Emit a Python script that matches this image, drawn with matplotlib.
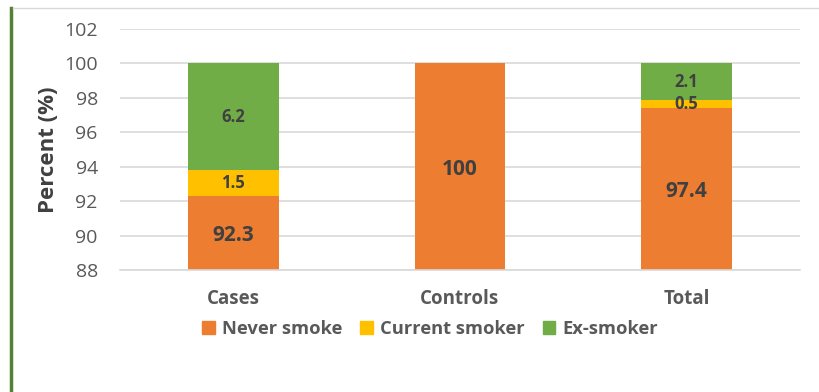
import matplotlib.pyplot as plt
import numpy as np
from matplotlib.lines import Line2D
from matplotlib.patches import Patch

# ─────────────────────────────────────────────
# Data
# ─────────────────────────────────────────────
groups = ['Cases', 'Controls', 'Total']
never_smoke = [92.3, 100, 97.4]
current_smoker = [1.5, 0, 0.5]
ex_smoker = [6.2, 0, 2.1]
y_ticks = [88, 90, 92, 94, 96, 98, 100, 102]

plt.rcParams['font.family'] = ['Open Sans', 'DejaVu Sans']

c_never = "#ED7D31"
c_current = "#FFC000"
c_ex = "#70AD47"
txt = "#404040"

fig = plt.figure(figsize=(8.2, 3.92), dpi=100, facecolor="white")
ax = fig.add_axes([120 / 820, 1 - 270 / 392, 680 / 820, 241 / 392])

x = np.arange(len(groups))
w = 0.4
ymin, ymax = 88, 102
ax.bar(x, never_smoke, w, color=c_never, zorder=2)
ax.bar(x, current_smoker, w, bottom=never_smoke, color=c_current, zorder=2)
bottom_ex = [a + b for a, b in zip(never_smoke, current_smoker)]
ax.bar(x, ex_smoker, w, bottom=bottom_ex, color=c_ex, zorder=2)

# Data labels (centred on the visible part of each segment)
for i in range(len(groups)):
    ax.text(x[i], (ymin + never_smoke[i]) / 2, f'{never_smoke[i]:g}',
            ha='center', va='center_baseline', fontsize=15, fontweight='bold', color=txt)
    if current_smoker[i] > 0:
        ax.text(x[i], never_smoke[i] + current_smoker[i] / 2, f'{current_smoker[i]:g}',
                ha='center', va='center', fontsize=12, fontweight='bold', color=txt)
    if ex_smoker[i] > 0:
        ax.text(x[i], bottom_ex[i] + ex_smoker[i] / 2, f'{ex_smoker[i]:g}',
                ha='center', va='center', fontsize=12, fontweight='bold', color=txt)

ax.set_xlim(-0.5, len(groups) - 0.5)
ax.set_ylim(ymin, ymax)
ax.set_yticks(y_ticks)
ax.set_yticklabels([str(t) for t in y_ticks], fontsize=14, color="#595959")
ax.set_xticks(x)
ax.set_xticklabels(groups, fontsize=13.5, fontweight='bold', color="#595959")
ax.tick_params(axis='both', length=0)
ax.tick_params(axis='y', pad=16)
ax.tick_params(axis='x', pad=14)
ax.grid(True, axis='y', color="#D9D9D9", linewidth=1.2, zorder=0)
for s in ['top', 'right', 'left']:
    ax.spines[s].set_visible(False)
ax.spines['bottom'].set_color("#D9D9D9")
ax.spines['bottom'].set_linewidth(1.2)

ax.set_ylabel('Percent (%)', fontsize=16, fontweight='bold', color=txt, labelpad=4)

# Legend
handles = [Patch(color=c_never, label='Never smoke'),
           Patch(color=c_current, label='Current smoker'),
           Patch(color=c_ex, label='Ex-smoker')]
leg = fig.legend(handles=handles, loc='center', bbox_to_anchor=(430 / 820, 1 - 329 / 392),
                 ncol=3, frameon=False, fontsize=13.2, handlelength=0.7, handleheight=0.7,
                 handletextpad=0.35, columnspacing=1.0)
for t in leg.get_texts():
    t.set_color("#595959")
    t.set_fontweight('bold')

# Frame lines around the figure
fig.add_artist(Line2D([11.5 / 820, 11.5 / 820], [0, 1 - 8 / 392], color="#548235",
                      linewidth=2.5, transform=fig.transFigure))
fig.add_artist(Line2D([13 / 820, 1], [1 - 8 / 392, 1 - 8 / 392], color="#D9D9D9",
                      linewidth=1.0, transform=fig.transFigure))

plt.savefig('out.png', dpi=100, facecolor=fig.get_facecolor())
